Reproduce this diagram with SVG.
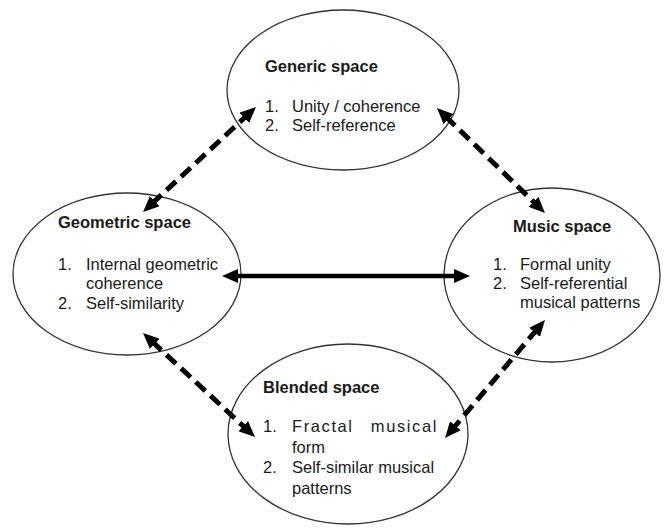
<svg xmlns="http://www.w3.org/2000/svg" width="669" height="529" viewBox="0 0 669 529">
<style>
.node ellipse{fill:#fff;stroke:#333;stroke-width:1.3}
text{font-family:"Liberation Sans",Arial,sans-serif;font-size:16.5px;fill:#1a1a1a}
.t{font-weight:bold}
.dash{stroke:#000;stroke-width:5;fill:none;stroke-dasharray:13 7}
.solid{stroke:#000;stroke-width:4.5;fill:none}
</style>
<defs>
<marker id="ah" viewBox="0 0 16 14" refX="4" refY="7" markerWidth="16" markerHeight="14" markerUnits="userSpaceOnUse" orient="auto-start-reverse">
<path d="M0,0 L16,7 L0,14 z" fill="#000"/>
</marker>
</defs>
<rect width="669" height="529" fill="#fff"/>
<g id="generic" class="node">
<ellipse cx="343" cy="90" rx="116" ry="80"/>
<text class="t" x="265" y="72">Generic space</text>
<text x="265" y="112">1.</text><text x="292" y="112">Unity / coherence</text>
<text x="265" y="131">2.</text><text x="292" y="131">Self-reference</text>
</g>
<g id="geometric" class="node">
<ellipse cx="127" cy="274" rx="114" ry="81"/>
<text class="t" x="58" y="228">Geometric space</text>
<text x="58" y="270">1.</text><text x="86" y="270">Internal geometric</text>
<text x="86" y="289">coherence</text>
<text x="58" y="309">2.</text><text x="86" y="309">Self-similarity</text>
</g>
<g id="music" class="node">
<ellipse cx="552" cy="275" rx="108" ry="87"/>
<text class="t" x="513" y="232">Music space</text>
<text x="493" y="270">1.</text><text x="520" y="270">Formal unity</text>
<text x="493" y="289">2.</text><text x="520" y="289">Self-referential</text>
<text x="520" y="308">musical patterns</text>
</g>
<g id="blended" class="node">
<ellipse cx="348" cy="434" rx="120" ry="90"/>
<text class="t" x="263" y="393">Blended space</text>
<text x="263" y="432">1.</text>
<text x="292" y="432" letter-spacing="1.6">Fractal</text>
<text x="438" y="432" letter-spacing="1.6" text-anchor="end">musical</text>
<text x="292" y="453">form</text>
<text x="263" y="473">2.</text><text x="292" y="473">Self-similar musical</text>
<text x="292" y="494">patterns</text>
</g>
<g id="connectors">
<path class="dash" d="M151.8,203.8 L247.2,115.2" marker-start="url(#ah)" marker-end="url(#ah)"/>
<path class="dash" d="M445.6,116.4 L536.4,204.6" marker-start="url(#ah)" marker-end="url(#ah)"/>
<path class="solid" d="M234,276 L458,276" marker-start="url(#ah)" marker-end="url(#ah)"/>
<path class="dash" d="M151.8,341.2 L246.2,428.8" marker-start="url(#ah)" marker-end="url(#ah)"/>
<path class="dash" d="M537.2,329.2 L452.8,428.8" marker-start="url(#ah)" marker-end="url(#ah)"/>
</g>
</svg>
